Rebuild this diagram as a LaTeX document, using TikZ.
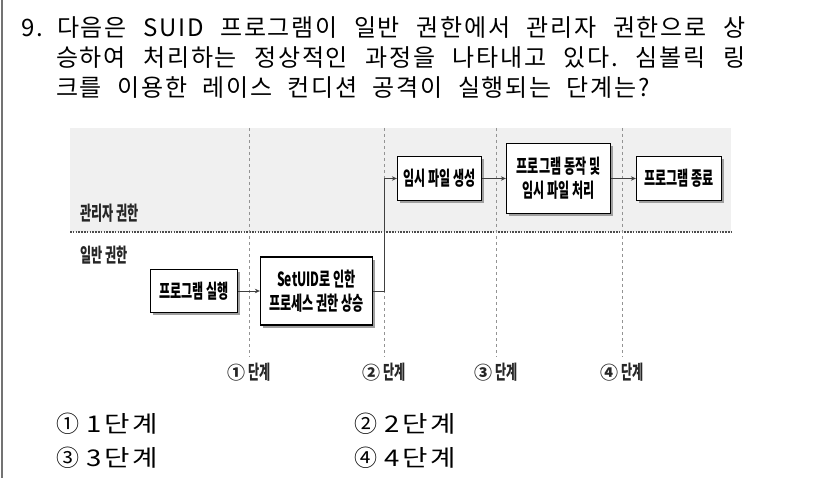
\documentclass[tikz,border=0pt]{standalone}
\usepackage{fontspec}
\setmainfont{Noto Sans CJK KR}
\newfontfamily\qfont{Noto Sans CJK KR}[WordSpace=2.2, LetterSpace=7]
\newfontfamily\ofont{Noto Sans CJK KR}[FakeStretch=1.2, LetterSpace=12]
\newfontfamily\dfont{Noto Sans CJK KR}[FakeStretch=0.62]
\newfontfamily\cfont{Noto Sans CJK KR}
\frenchspacing
\usetikzlibrary{shadows, arrows.meta}

\begin{document}
\begin{tikzpicture}[x=1pt,y=-1pt,
  qline/.style={anchor=base west, inner sep=0pt, font=\qfont\fontsize{24}{24}\selectfont},
  opt/.style={anchor=base west, inner sep=0pt, font=\ofont\fontsize{23}{23}\selectfont},
  box/.style={draw=black, line width=1.3pt, fill=white, align=center, inner sep=0pt,
    font=\dfont\bfseries\fontsize{19.5}{24}\selectfont,
    drop shadow={shadow xshift=2.5pt, shadow yshift=-2.5pt, fill=gray!75, opacity=1}},
  lbl/.style={font=\dfont\bfseries\fontsize{19.5}{19.5}\selectfont, inner sep=0pt, text=black!85},
  conn/.style={draw=black!75, line width=0.9pt, -{Stealth[length=5pt,width=4.5pt]}},
  stage/.style={draw=gray!85, line width=0.8pt, dash pattern=on 3pt off 3pt},
  dotline/.style={draw=black!70, line width=2.4pt, dash pattern=on 1.6pt off 1.2pt},
]
\useasboundingbox (0,0) rectangle (826,478);
\fill[white] (0,0) rectangle (826,478);
\draw[black!55, line width=1.3pt] (2,0) -- (2,478);

% question
\node[qline] (n9) at (21,37) {9.};
\node[qline] (q1) at (57,37) {\makebox[688pt][s]{다음은 SUID 프로그램이 일반 권한에서 관리자 권한으로 상}};
\node[qline] (q2) at (56,67) {\makebox[689pt][s]{승하여 처리하는 정상적인 과정을 나타내고 있다. 심볼릭 링}};
\node[qline] (q3) at (56,97) {크를 이용한 레이스 컨디션 공격이 실행되는 단계는?};

% diagram background
\fill[gray!12] (70,128) rectangle (731,232);
\draw[dotline] (70,232) -- (731,232);
\node[lbl, anchor=west] (admin) at (80,213) {관리자 권한};
\node[lbl, anchor=west] (user) at (80,255) {일반 권한};

% stage lines
\foreach \x/\n/\c in {249/s1/①, 384/s2/②, 496/s3/③, 622/s4/④} {
  \node[lbl] (\n) at (\x,372) {{\cfont\bfseries\fontsize{18}{18}\selectfont\c}\,단계};
  \coordinate (\n top) at (\x,128);
  \draw[stage, shorten >=6pt] (\n top) -- (\n.north);
}

% boxes
\node[box, minimum width=87pt, minimum height=43pt] (b1) at (194,291) {프로그램 실행};
\node[box, minimum width=112pt, minimum height=68pt] (b2) at (316.5,291) {SetUID로 인한\\프로세스 권한 상승};
\node[box, minimum width=84pt, minimum height=44pt] (b3) at (439.5,178.5) {임시 파일 생성};
\node[box, minimum width=104pt, minimum height=70pt] (b4) at (558.5,178.5) {프로그램 동작 및\\임시 파일 처리};
\node[box, minimum width=85pt, minimum height=44pt] (b5) at (679,178.5) {프로그램 종료};

% connectors
\coordinate (bend) at (384,0);
\draw[conn] (b1) -- (b2);
\draw[conn] (b2.east) -- (b2.east -| bend) -- (bend |- b3.west) -- (b3.west);
\draw[conn] (b3) -- (b4);
\draw[conn] (b4) -- (b5);

% options
\node[opt] (o1) at (56,432) {{\cfont ①}\hspace{7pt}1단계};
\node[opt] (o2) at (354,432) {{\cfont ②}\hspace{7pt}2단계};
\node[opt] (o3) at (56,466) {{\cfont ③}\hspace{7pt}3단계};
\node[opt] (o4) at (354,466) {{\cfont ④}\hspace{7pt}4단계};
\end{tikzpicture}
\end{document}
